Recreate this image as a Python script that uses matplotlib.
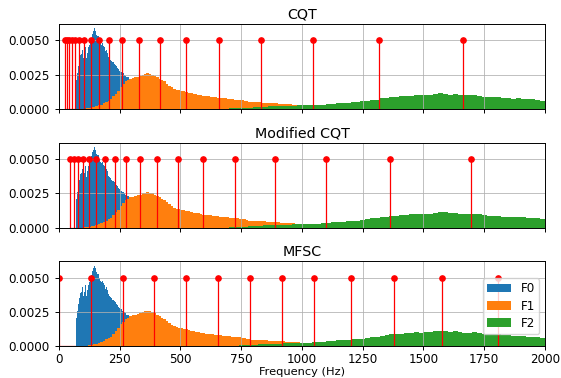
import numpy as np
import matplotlib
matplotlib.use('Agg')
import matplotlib.pyplot as plt

# histogram data (density)
f0_start = 72
f0_width = 4
f0_density = [0.0021, 0.0026, 0.0031, 0.0035, 0.0039, 0.0040, 0.0043, 0.0037,
              0.0040, 0.0045, 0.0037, 0.0041, 0.0045, 0.0047, 0.0050, 0.0052,
              0.0055, 0.0057, 0.0059, 0.0057, 0.0054, 0.0053, 0.0053, 0.0050,
              0.0048, 0.0047, 0.0048, 0.0046, 0.0045, 0.0042, 0.0043, 0.0041,
              0.0040, 0.0038, 0.0037, 0.0036, 0.0035, 0.0034, 0.0034, 0.0033,
              0.0032, 0.0031, 0.0030, 0.0029, 0.0028, 0.0027, 0.0027, 0.0026,
              0.0026, 0.0025, 0.0024, 0.0023, 0.0023, 0.0023, 0.0022, 0.0022,
              0.0021, 0.0019, 0.0017, 0.0015, 0.0014, 0.0013, 0.0012, 0.0011,
              0.0010, 0.0009, 0.0008, 0.0007, 0.0006, 0.0005, 0.0004, 0.00035,
              0.0003, 0.00025, 0.0002, 0.00015, 0.0001, 0.00008, 0.00006, 0.00004,
              0.00003, 0.00002]

f1_start = 100
f1_width = 10
f1_density = [0.00002, 0.00004, 0.00006, 0.0001, 0.00013, 0.00018, 0.00025, 0.0003,
              0.0004, 0.0005, 0.0006, 0.0007, 0.0009, 0.0011, 0.0013, 0.0016,
              0.0018, 0.0020, 0.0021, 0.0022, 0.00225, 0.0023, 0.00235, 0.0024,
              0.0025, 0.00255, 0.0026, 0.00255, 0.0025, 0.0024, 0.0023, 0.0022,
              0.0021, 0.0020, 0.00185, 0.0017, 0.00158, 0.00145, 0.00138, 0.00134,
              0.0013, 0.00128, 0.00124, 0.00118, 0.00112, 0.00108, 0.00106, 0.00104,
              0.0010, 0.00095, 0.00092, 0.0009, 0.00088, 0.00086, 0.00084, 0.00082,
              0.0008, 0.00078, 0.00076, 0.00074, 0.00072, 0.0007, 0.00068, 0.00066,
              0.00064, 0.00062, 0.0006, 0.00054, 0.0005, 0.00049, 0.00049, 0.00048,
              0.00047, 0.00046, 0.00045, 0.00043, 0.00042, 0.00041, 0.0004, 0.0004,
              0.00038, 0.00036, 0.00035, 0.00034, 0.00033, 0.00032, 0.0003, 0.00029,
              0.00028, 0.00027]

f2_start = 700
f2_width = 20
f2_density = [0.00004, 0.00005, 0.00006, 0.00007, 0.00008, 0.0001, 0.00014, 0.00016,
              0.00017, 0.00018, 0.0002, 0.00021, 0.00022, 0.00023, 0.00026, 0.00027,
              0.00027, 0.00028, 0.00028, 0.0003, 0.00036, 0.00037, 0.00043, 0.00044,
              0.00045, 0.0005, 0.00051, 0.00055, 0.0006, 0.00067, 0.00068, 0.00078,
              0.0008, 0.00086, 0.00087, 0.0009, 0.00095, 0.00096, 0.00102, 0.00098,
              0.00101, 0.00102, 0.00108, 0.00113, 0.0011, 0.00104, 0.00108, 0.00102,
              0.0010, 0.0010, 0.00101, 0.00096, 0.00088, 0.00087, 0.00087, 0.00086,
              0.0008, 0.00079, 0.00075, 0.00077, 0.00074, 0.00071, 0.0007, 0.00068,
              0.0006]

# filter center frequencies (Hz)
cqt_freqs = [25.96, 32.70, 41.20, 51.91, 65.41, 82.41, 103.83, 130.81, 164.81,
             207.65, 261.63, 329.63, 415.30, 523.25, 659.26, 830.61, 1046.50,
             1318.51, 1661.22]
mod_cqt_freqs = [46.5, 61.7, 78.2, 98.8, 124.7, 153.5, 189.3, 229.2, 277.0,
                 334.6, 403.3, 488.5, 591.4, 723.0, 888.9, 1097.5, 1360.9, 1695.5]
mfsc_freqs = [0, 130.3, 262.0, 392.0, 524.0, 654.3, 784.8, 917.7, 1050.6,
              1202.9, 1377.4, 1577.4, 1806.6]
stem_height = 0.005

titles = ['CQT', 'Modified CQT', 'MFSC']
bank_freqs = [cqt_freqs, mod_cqt_freqs, mfsc_freqs]

plt.rcParams['font.size'] = 8.6


def draw_hist(ax, start, width, dens, color, label):
    left = start + width * np.arange(len(dens))
    ax.bar(left, dens, width=width, align='edge', color=color,
           linewidth=0, label=label)


fig, axes = plt.subplots(3, 1, sharex=True, figsize=(5.61, 3.78), dpi=100)
fig.subplots_adjust(left=0.105, right=0.9715, top=0.9365, bottom=0.084,
                    hspace=0.40)

for ax, title, freqs in zip(axes, titles, bank_freqs):
    draw_hist(ax, f0_start, f0_width, f0_density, 'C0', 'F0')
    draw_hist(ax, f1_start, f1_width, f1_density, 'C1', 'F1')
    draw_hist(ax, f2_start, f2_width, f2_density, 'C2', 'F2')
    markers, stems, base = ax.stem(freqs, [stem_height] * len(freqs),
                                   linefmt='r-', markerfmt='ro', basefmt='r-')
    markers.set_markersize(3.8)
    stems.set_linewidth(0.9)
    base.set_linewidth(0.9)
    base.set_zorder(0.5)
    ax.set_title(title, fontsize=10.3, pad=4)
    ax.set_xlim(0, 2000)
    ax.set_ylim(0, 0.0062)
    ax.set_yticks([0, 0.0025, 0.005])
    ax.set_xticks(np.arange(0, 2001, 250))
    ax.grid(True, linewidth=0.7, alpha=0.8)
    ax.tick_params(length=3, width=0.7)
    for s in ax.spines.values():
        s.set_linewidth(0.7)

axes[2].tick_params(axis='x', pad=2)
axes[2].set_xlabel('Frequency (Hz)', fontsize=8.2, labelpad=0.5)
axes[2].legend(loc='lower right', bbox_to_anchor=(1.0, 0.074),
               labelspacing=0.35, borderpad=0.35)

plt.savefig('out.png', dpi=100)
